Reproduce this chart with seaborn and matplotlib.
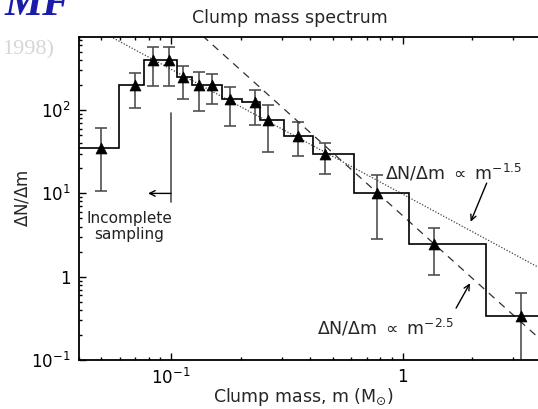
import numpy as np
import pandas as pd
import matplotlib
matplotlib.use("Agg")
import matplotlib.pyplot as plt
import seaborn as sns
from matplotlib.ticker import FixedLocator, FuncFormatter, LogLocator, NullFormatter

# ---------------- data ----------------
mass = [0.050, 0.070, 0.0834, 0.0977, 0.113, 0.132, 0.151, 0.180, 0.231, 0.263,
        0.352, 0.462, 0.772, 1.37, 3.23]
dNdm = [35.4, 200, 399, 399, 248, 200, 200, 135, 125, 76,
        49.3, 29.4, 10.0, 2.47, 0.34]
err_hi = [60.5, 277, 567, 567, 341, 289, 269, 191, 174, 114,
          71.4, 40.6, 16.6, 3.87, 0.643]
err_lo = [10.8, 107, 194, 194, 136, 98, 117, 64.4, 66.2, 31.1,
          28.4, 17.2, 2.84, 1.05, 0.05]
bin_edges = [0.035, 0.0596, 0.0764, 0.0903, 0.1058, 0.1229, 0.1416, 0.1655, 0.2018,
             0.2421, 0.3083, 0.4089, 0.618, 1.065, 2.288, 6.0]

# power-law model lines  dN/dm = A * m^alpha
amp_shallow, alpha_shallow = 9.8, -1.5
amp_steep, alpha_steep = 5.4, -2.5

x_ticks = [0.1, 1]
x_ticklabels = [r"$10^{-1}$", "1"]
y_ticks = [0.1, 1, 10, 100]
y_ticklabels = [r"$10^{-1}$", "1", r"$10^{1}$", r"$10^{2}$"]

title = "Clump mass spectrum"
xlabel = r"Clump mass, m (M$_{\odot}$)"
ylabel = r"$\Delta$N/$\Delta$m"
label_shallow = r"$\Delta$N/$\Delta$m $\propto$ m$^{-1.5}$"
label_steep = r"$\Delta$N/$\Delta$m $\propto$ m$^{-2.5}$"

# ---------------- style ----------------
sns.set_style("ticks")
plt.rcParams["font.family"] = ["DejaVu Sans"]
plt.rcParams["mathtext.fontset"] = "dejavusans"

W, H = 538, 409
fig = plt.figure(figsize=(W / 100, H / 100), dpi=100)

xlim = (0.04, 5.0)
ylim = (0.1, 750)
px_dec_x = 231.7
px_dec_y = 83.3
ax_w = np.log10(xlim[1] / xlim[0]) * px_dec_x
ax_h = np.log10(ylim[1] / ylim[0]) * px_dec_y
left_px = 402.7 - px_dec_x * np.log10(1 / xlim[0])
bottom_px = 360
ax = fig.add_axes([left_px / W, (H - bottom_px) / H, ax_w / W, ax_h / H])
ax.set_xscale("log")
ax.set_yscale("log")
ax.set_xlim(*xlim)
ax.set_ylim(*ylim)

df = pd.DataFrame({"mass": mass, "dNdm": dNdm, "hi": err_hi, "lo": err_lo})

# histogram steps
ax.stairs(df["dNdm"], bin_edges, color="black", lw=1.2, baseline=None, zorder=3)

# error bars
yerr = [df["dNdm"] - df["lo"], df["hi"] - df["dNdm"]]
ax.errorbar(df["mass"], df["dNdm"], yerr=yerr, fmt="none", ecolor="#505050",
            elinewidth=1.2, capsize=4.0, capthick=1.2, zorder=2)

# points
sns.scatterplot(data=df, x="mass", y="dNdm", marker="^", s=62, color="black",
                edgecolor="black", linewidth=0.5, ax=ax, zorder=4, legend=False)

# power laws
m_grid = np.logspace(np.log10(xlim[0]), np.log10(xlim[1]), 200)
sns.lineplot(x=m_grid, y=amp_shallow * m_grid ** alpha_shallow, ax=ax, color="#404040",
             lw=0.9, linestyle=(0, (1, 1.4)), sort=False, zorder=2)
sns.lineplot(x=m_grid, y=amp_steep * m_grid ** alpha_steep, ax=ax, color="#303030",
             lw=0.9, linestyle=(0, (6, 5)), sort=False, zorder=2)

# incomplete sampling bracket
ax.plot([0.1, 0.1], [7.9, 92], color="#505050", lw=1.2, zorder=2)
ax.annotate("", xy=(0.0796, 10), xytext=(0.1, 10),
            arrowprops=dict(arrowstyle="->", color="black", lw=1.0,
                            shrinkA=0, shrinkB=0, mutation_scale=10))
ax.text(0.066, 4.0, "Incomplete\nsampling", ha="center", va="center",
        fontsize=11, color="#222222", linespacing=1.05)

# power-law labels and arrows
ax.text(0.839, 14.5, label_shallow, ha="left", va="baseline", fontsize=12.5)
ax.annotate("", xy=(1.965, 4.57), xytext=(2.304, 13.3),
            arrowprops=dict(arrowstyle="->", color="black", lw=1.0,
                            shrinkA=0, shrinkB=0, mutation_scale=10))
ax.text(0.4256, 0.2, label_steep, ha="left", va="baseline", fontsize=12.5)
ax.annotate("", xy=(1.952, 0.834), xytext=(1.70, 0.42),
            arrowprops=dict(arrowstyle="->", color="black", lw=1.0,
                            shrinkA=0, shrinkB=0, mutation_scale=10))

# ticks
ax.xaxis.set_major_locator(FixedLocator(x_ticks))
ax.xaxis.set_major_formatter(FuncFormatter(lambda v, p: x_ticklabels[x_ticks.index(v)] if v in x_ticks else ""))
ax.xaxis.set_minor_locator(LogLocator(base=10, subs=np.arange(2, 10)))
ax.xaxis.set_minor_formatter(NullFormatter())
ax.yaxis.set_major_locator(FixedLocator(y_ticks))
ax.yaxis.set_major_formatter(FuncFormatter(lambda v, p: y_ticklabels[y_ticks.index(v)] if v in y_ticks else ""))
ax.yaxis.set_minor_locator(LogLocator(base=10, subs=np.arange(2, 10)))
ax.yaxis.set_minor_formatter(NullFormatter())
ax.tick_params(which="both", direction="in", top=True, right=False, color="black",
               width=1.0, labelsize=12, labelcolor="black")
ax.tick_params(which="major", length=5)
ax.tick_params(which="minor", length=2.5)
ax.tick_params(axis="y", pad=6)
ax.tick_params(axis="x", pad=6)

for side in ["left", "bottom", "top"]:
    ax.spines[side].set_visible(True)
    ax.spines[side].set_linewidth(1.3)
    ax.spines[side].set_color("black")
ax.spines["right"].set_visible(False)

ax.set_xlabel(xlabel, fontsize=12.5)
ax.xaxis.set_label_coords((303 - left_px) / ax_w, (bottom_px - 397) / ax_h)
ax.xaxis.label.set_va("center")
ax.set_ylabel(ylabel, fontsize=12)
ax.yaxis.set_label_coords((23 - left_px) / ax_w, 0.5)
ax.yaxis.label.set_va("center")

fig.text(290 / W, 1 - 18 / H, title, ha="center", va="center", fontsize=12.5)

# header remnants from slide (cut off at the top edge, as in the reference)
fig.text(5 / W, 1 - 15 / H, "MF", ha="left", va="baseline", fontsize=31,
         family="Liberation Serif", weight="bold", style="italic", color="#1c1caa")
fig.text(2 / W, 1 - 54 / H, "1998)", ha="left", va="baseline", fontsize=16,
         family="Liberation Serif", color="#d6d6d6")

fig.savefig("out.png", dpi=100)
